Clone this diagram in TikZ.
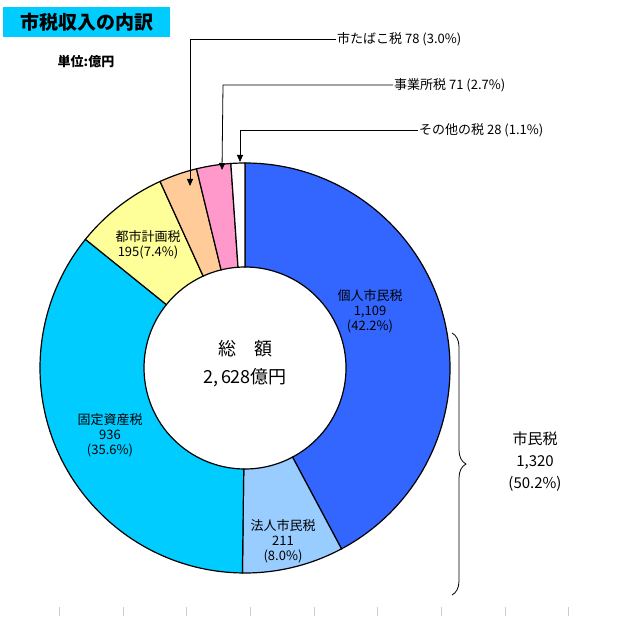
\documentclass[tikz,border=0pt]{standalone}
\usepackage{fontspec}
\setmainfont{Noto Sans CJK JP}
\usetikzlibrary{decorations.pathreplacing,arrows.meta}
\begin{document}
\begin{tikzpicture}[x=1pt,y=-1pt,
  slice/.style={draw=black,line width=1.2pt},
  lbl/.style={font=\fontsize{13}{15}\selectfont,align=center,inner sep=1pt},
  lead/.style={draw=black,line width=0.8pt,-{Triangle[length=7pt,width=6pt]}},
  tick/.style={draw=gray!40,line width=0.6pt}]
\useasboundingbox (0,0) rectangle (631,617);
\def\R{205}\def\r{101}
\newcommand{\myslice}[3]{\fill[#3] ([shift={(245,368)}]#1:\R) arc[start angle=#1,end angle=#2,radius=\R] -- ([shift={(245,368)}]#2:\r) arc[start angle=#2,end angle=#1,radius=\r] -- cycle;
\draw[slice] ([shift={(245,368)}]#1:\R) arc[start angle=#1,end angle=#2,radius=\R] -- ([shift={(245,368)}]#2:\r) arc[start angle=#2,end angle=#1,radius=\r] -- cycle;}
\definecolor{cA}{HTML}{3366FF}\definecolor{cB}{HTML}{99CCFF}\definecolor{cC}{HTML}{00CCFF}
\definecolor{cD}{HTML}{FFFF99}\definecolor{cE}{HTML}{FFCC99}\definecolor{cF}{HTML}{FF99CC}
\myslice{-90}{61.92}{cA}
\myslice{61.92}{90.72}{cB}
\myslice{90.72}{218.88}{cC}
\myslice{218.88}{245.52}{cD}
\myslice{245.52}{256.32}{cE}
\myslice{256.32}{266.04}{cF}
\myslice{266.04}{270}{white}
% title
\node[fill=cC,minimum width=167pt,minimum height=30pt,inner sep=0pt,font=\fontsize{19}{21}\selectfont\bfseries] (title) at (86.5,22) {市税収入の内訳};
\node[font=\fontsize{13}{15}\selectfont\bfseries] (unit) at (86,62) {単位:億円};
% labels
\node[lbl] (kojin) at (370,311) {個人市民税\\1,109\\(42.2\%)};
\node[lbl] (hojin) at (283,541) {法人市民税\\211\\(8.0\%)};
\node[lbl] (kotei) at (110,435) {固定資産税\\936\\(35.6\%)};
\node[lbl] (toshi) at (148,245) {都市計画税\\195(7.4\%)};
\node[align=center,font=\fontsize{18}{28}\selectfont] (total) at (245,364) {総\quad 額\\2,\,628億円};
% leaders
\node[lbl,anchor=west] (tab) at (336,39) {市たばこ税 78 (3.0\%)};
\node[lbl,anchor=west] (jig) at (393,85) {事業所税 71 (2.7\%)};
\node[lbl,anchor=west] (oth) at (418,130) {その他の税 28 (1.1\%)};
\coordinate (tabE) at (190,186);
\coordinate (jigE) at (222,170);
\coordinate (othE) at (240,162);
\draw[lead] (tab.west) -- (190,39) -- (tabE);
\draw[lead] (jig.west) -- (223,85) -- (jigE);
\draw[lead] (oth.west) -- (240,130) -- (othE);
% brace
\coordinate (bt) at (452,333);
\coordinate (bb) at (452,595);
\draw[line width=0.8pt,decorate,decoration={brace,amplitude=14pt}] (bt) -- (bb);
\node[lbl,font=\fontsize{15}{22}\selectfont] (shimin) at (535,462) {市民税\\1,320\\(50.2\%)};
% ticks
\foreach \x in {59,123,186,250,314,377,441,505,568} \draw[tick] (\x,607) -- (\x,616);
\end{tikzpicture}
\end{document}
